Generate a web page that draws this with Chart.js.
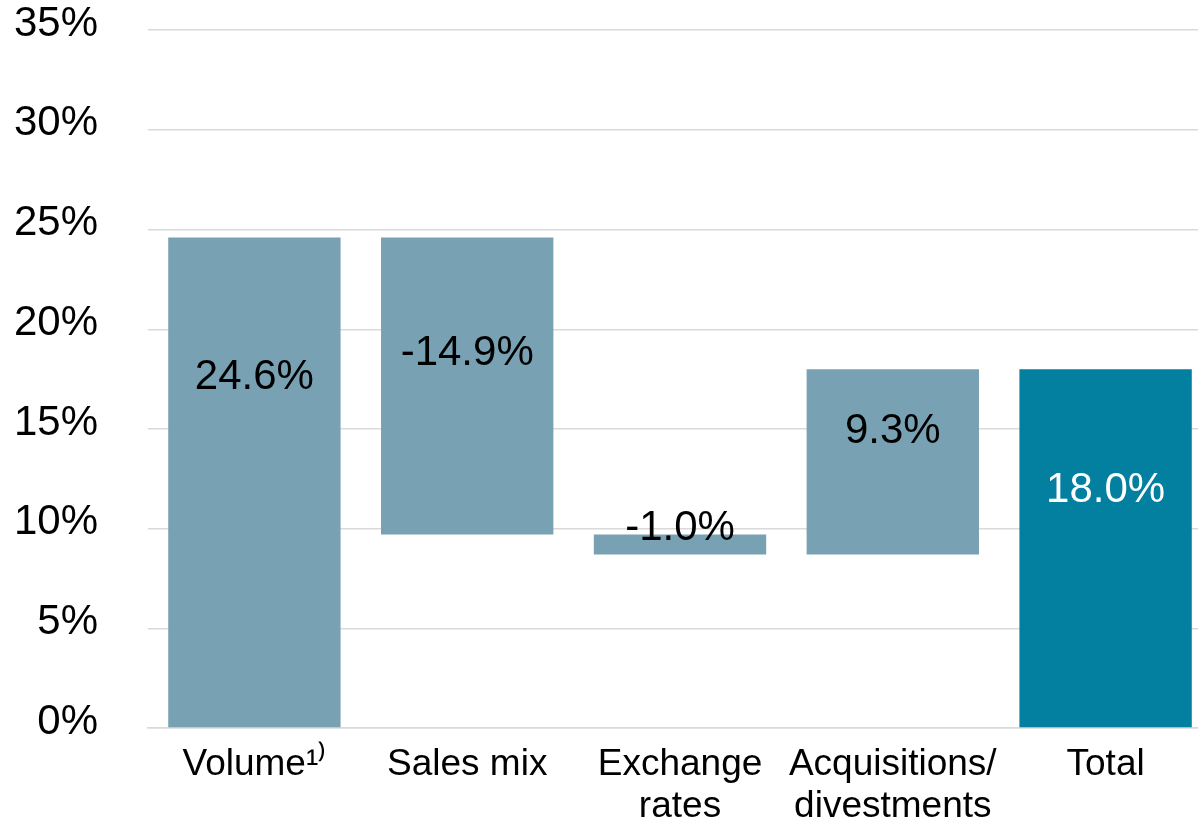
<!DOCTYPE html>
<html>
<head>
<meta charset="utf-8">
<script src="https://cdn.jsdelivr.net/npm/chart.js@4/dist/chart.umd.min.js"></script>
<style>
  html, body { margin: 0; padding: 0; background: #fff; overflow: hidden; }
  #bridge-chart { display: block; margin-top: -45px; }
</style>
</head>
<body>
<canvas id="bridge-chart" width="1212" height="868"></canvas>
<script>
// categories and steps of the bridge
let categories = [["Volume\u00B9\u207E"], ["Sales mix"], ["Exchange", "rates"], ["Acquisitions/", "divestments"], ["Total"]];
let deltas = [24.6, -14.9, -1.0, 9.3];
let total = 18.0;
let valueLabels = ["24.6%", "-14.9%", "-1.0%", "9.3%", "18.0%"];
let yTicks = [0, 5, 10, 15, 20, 25, 30, 35];

// floating bars [start, end] built from the steps
let bars = [];
let run = 0;
for (let i = 0; i < deltas.length; i++) {
  let start = run;
  run = Math.round((run + deltas[i]) * 10) / 10;
  bars.push([Math.min(start, run), Math.max(start, run)]);
}
bars.push([0, total]);

let barColors = ["#78A2B3", "#78A2B3", "#78A2B3", "#78A2B3", "#037FA0"];
let textColors = ["#000", "#000", "#000", "#000", "#fff"];
// where each value label sits (in axis units), as in the original slide
let labelAt = [17.6, 18.8, 10.0, 14.9, 11.9];

const valueLabelPlugin = {
  id: 'valueLabels',
  afterDatasetsDraw(chart) {
    const ctx = chart.ctx;
    const meta = chart.getDatasetMeta(0);
    const y = chart.scales.y;
    ctx.save();
    ctx.font = '42px "Liberation Sans", Arial, sans-serif';
    ctx.textAlign = 'center';
    ctx.textBaseline = 'middle';
    meta.data.forEach(function (bar, i) {
      ctx.fillStyle = textColors[i];
      ctx.fillText(valueLabels[i], bar.x, y.getPixelForValue(labelAt[i]));
    });
    ctx.restore();
  }
};

var ctx = document.getElementById('bridge-chart');
var myChart = new Chart(ctx, {
  type: 'bar',
  data: {
    labels: categories,
    datasets: [{
      data: bars,
      backgroundColor: barColors,
      borderWidth: 0,
      borderSkipped: false,
      barPercentage: 0.81,
      categoryPercentage: 1.0
    }]
  },
  options: {
    responsive: false,
    animation: false,
    layout: { padding: 0 },
    plugins: {
      legend: { display: false },
      tooltip: { enabled: false }
    },
    scales: {
      x: {
        grid: { display: false, drawTicks: false },
        border: { display: true, color: '#D9D9D9', width: 1.5 },
        ticks: {
          color: '#000',
          padding: 16,
          maxRotation: 0,
          autoSkip: false,
          font: { family: '"Liberation Sans", Arial, sans-serif', size: 37, lineHeight: 1.13 }
        },
        afterFit: function (scale) { scale.height = 95; }
      },
      y: {
        min: 0,
        max: 35,
        afterBuildTicks: function (scale) {
          scale.ticks = yTicks.map(v => ({ value: v }));
        },
        grid: { color: '#D9D9D9', lineWidth: 1.5, drawTicks: false },
        border: { display: false },
        ticks: {
          color: '#000',
          padding: 50,
          labelOffset: -6,
          font: { family: '"Liberation Sans", Arial, sans-serif', size: 42 },
          callback: function (v) { return v + '%'; }
        },
        afterFit: function (scale) { scale.width = 148; }
      }
    }
  },
  plugins: [valueLabelPlugin]
});
</script>
</body>
</html>
